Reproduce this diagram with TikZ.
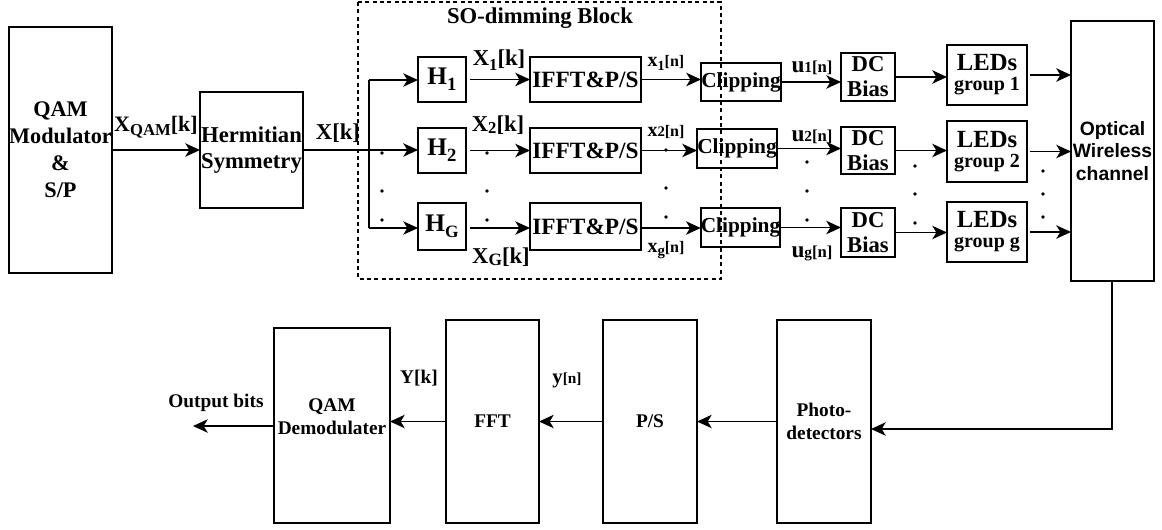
\documentclass[tikz,border=0pt]{standalone}
\usepackage{fontspec}
\setmainfont{Liberation Serif}
\newfontfamily\owfont{Liberation Sans}
\usetikzlibrary{arrows.meta}
\newcommand\fs[2]{\fontsize{#1pt}{#2pt}\selectfont}
\newcommand\lowr[3]{\raisebox{#1}{\fontsize{#2pt}{#2pt}\selectfont #3}}
\begin{document}
\begin{tikzpicture}[x=0.75pt,y=-0.75pt,
  box/.style={draw, line width=1.3pt, inner sep=0pt, outer sep=0pt, align=center},
  bx/.style n args={4}{at={({(#1+#3)/2},{(#2+#4)/2})}, minimum width={(#3-#1)*0.75pt}, minimum height={(#4-#2)*0.75pt}},
  arr/.style={line width=1.3pt, -{Stealth[length=11pt,width=10pt,inset=3pt]}},
  ln/.style={line width=1.3pt},
  lab/.style={inner sep=0pt}
]
\useasboundingbox (0,0) rectangle (1162,529);

% dashed SO-dimming block
\draw[line width=1.2pt, dash pattern=on 3pt off 2.5pt] (358,2) rectangle (721,279);
\node[lab, font=\bfseries\fs{17}{18}] (title) at (540,18) {SO-dimming Block};

% main boxes
\node[box, bx={9}{27}{112}{273}, font=\bfseries\fs{16.7}{20.2}] (mod) {QAM\\Modulator\\\&\\S/P};
\node[box, bx={200}{92}{303}{208}, font=\bfseries\fs{17}{19.5}] (herm) {Hermitian\\Symmetry};

\node[box, bx={418}{57}{466}{102}, font=\bfseries\fs{19}{20}] (H1) {H\lowr{-0.55ex}{14}{1}};
\node[box, bx={418}{128}{466}{173}, font=\bfseries\fs{19}{20}] (H2) {H\lowr{-0.55ex}{14}{2}};
\node[box, bx={418}{203}{466}{250}, font=\bfseries\fs{19}{20}] (HG) {H\lowr{-0.5ex}{13}{G}};

\node[box, bx={530}{57}{641}{102}, font=\bfseries\fs{17.5}{20}] (F1) {IFFT\&P/S};
\node[box, bx={530}{128}{641}{173}, font=\bfseries\fs{17.5}{20}] (F2) {IFFT\&P/S};
\node[box, bx={530}{203}{641}{250}, font=\bfseries\fs{17.5}{20}] (F3) {IFFT\&P/S};

\node[box, bx={701}{63}{781}{101}, font=\bfseries\fs{16}{18}] (C1) {Clipping};
\node[box, bx={697}{129}{777}{168}, font=\bfseries\fs{16}{18}] (C2) {Clipping};
\node[box, bx={701}{208}{780}{247}, font=\bfseries\fs{16}{18}] (C3) {Clipping};

\node[box, bx={841}{53}{895}{101}, font=\bfseries\fs{17}{18.7}] (D1) {DC\\Bias};
\node[box, bx={841}{127}{895}{174}, font=\bfseries\fs{17}{18.7}] (D2) {DC\\Bias};
\node[box, bx={841}{208}{895}{257}, font=\bfseries\fs{17}{18.7}] (D3) {DC\\Bias};

\node[box, bx={947}{45}{1027}{105}, font=\bfseries\fs{15}{16}] (L1) {{\fs{18.5}{16}LEDs}\\[-1pt]group 1};
\node[box, bx={947}{121}{1027}{182}, font=\bfseries\fs{15}{16}] (L2) {{\fs{18.5}{16}LEDs}\\[-1pt]group 2};
\node[box, bx={947}{202}{1027}{262}, font=\bfseries\fs{15}{16}] (L3) {{\fs{18.5}{16}LEDs}\\[-1pt]group g};

\node[box, bx={1071}{21}{1154}{281}, font=\owfont\bfseries\fs{14.5}{17}] (OW) {Optical\\Wireless\\channel};

\node[box, bx={274}{328}{390}{523}, font=\bfseries\fs{14.5}{17}] (QD) {QAM\\Demodulater\\[-3.5pt]\mbox{}};
\node[box, bx={446}{320}{539}{523}, font=\bfseries\fs{14.5}{17}] (FFT) {FFT};
\node[box, bx={603}{320}{697}{523}, font=\bfseries\fs{14.5}{17}] (PS) {P/S};
\node[box, bx={777}{320}{871}{523}, font=\bfseries\fs{14.5}{17}] (PD) {Photo-\\detectors};

% connectors top
\draw[arr] (mod.east) -- (herm.west);
\coordinate (sp) at (369,150);
\coordinate (sp1) at (369,80);
\coordinate (sp3) at (369,228);
\draw[ln] (herm.east) -- (sp);
\draw[ln] (sp1) -- (sp3);
\draw[arr] (sp1) -- (sp1 -| H1.west);
\draw[arr] (sp) -- (sp -| H2.west);
\draw[arr] (sp3) -- (sp3 -| HG.west);

\draw[arr, shorten <=3pt] (H1.east) -- (H1.east -| F1.west);
\draw[arr, shorten <=3pt] (H2.east) -- (H2.east -| F2.west);
\draw[arr, shorten <=3pt] (sp3 -| HG.east) -- (sp3 -| F3.west);

\draw[arr] (F1.east) -- (F1.east -| C1.west);
\draw[arr] (F2.east) -- (F2.east -| C2.west);
\draw[arr] (sp3 -| F3.east) -- (sp3 -| C3.west);

\draw[arr] (C1.east) -- (C1.east -| D1.west);
\draw[arr] (C2.east) -- (C2.east -| D2.west);
\draw[arr] (C3.east) -- (C3.east -| D3.west);

\draw[arr] (D1.east) -- (D1.east -| L1.west);
\draw[arr] (D2.east) -- (D2.east -| L2.west);
\draw[arr] (D3.east) -- (D3.east -| L3.west);

\draw[arr, shorten <=2pt] (L1.east) -- (L1.east -| OW.west);
\draw[arr, shorten <=2pt] (L2.east) -- (L2.east -| OW.west);
\draw[arr, shorten <=2pt] (L3.east) -- (L3.east -| OW.west);

% connectors bottom
\coordinate (bc) at (1112,429);
\draw[arr] (OW.south -| bc) -- (bc) -- (bc -| PD.east);
\draw[arr] (PD.west) -- (PD.west -| PS.east);
\draw[arr] (PS.west) -- (PS.west -| FFT.east);
\draw[arr] (FFT.west) -- (FFT.west -| QD.east);
\coordinate (out) at (193,426);
\draw[arr] (out -| QD.west) -- (out);

% labels
\node[lab, font=\bfseries\fs{16.5}{18}] (lqam) at (156,127) {X\lowr{-0.4ex}{12.5}{QAM}[k]};
\node[lab, font=\bfseries\fs{17}{18}] (lxk) at (338,133) {X[k]};
\node[lab, font=\bfseries\fs{17}{18}] (lx1) at (499,60) {X\lowr{-0.5ex}{12.5}{1}[k]};
\node[lab, font=\bfseries\fs{17}{18}] (lx2) at (498,125) {X\lowr{-0.2ex}{12.5}{2}[k]};
\node[lab, font=\bfseries\fs{17}{18}] (lxg) at (501,257) {X\lowr{-0.2ex}{13}{G}[k]};
\node[lab, font=\bfseries\fs{15}{16}] (ln1) at (666,63) {x\lowr{-0.4ex}{10.5}{1}{\fs{12}{12}[n]}};
\node[lab, font=\bfseries\fs{15}{16}] (ln2) at (666,132) {x{\fs{11}{12}2}{\fs{12}{12}[n]}};
\node[lab, font=\bfseries\fs{15}{16}] (lng) at (666,250) {x\lowr{-0.25ex}{11}{g}{\fs{12}{12}[n]}};
\node[lab, font=\bfseries\fs{17.5}{18}] (lu1) at (812,68) {u{\fs{11.5}{12}1}{\fs{12.5}{12}[n]}};
\node[lab, font=\bfseries\fs{17.5}{18}] (lu2) at (812,137) {u{\fs{11.5}{12}2}{\fs{12.5}{12}[n]}};
\node[lab, font=\bfseries\fs{17.5}{18}] (lug) at (812,253) {u{\fs{11.5}{12}g}{\fs{12.5}{12}[n]}};
\node[lab, font=\bfseries\fs{14.5}{16}] (lyk) at (419,378) {Y[k]};
\node[lab, font=\bfseries\fs{15.5}{16}] (lyn) at (567,380) {y{\fs{11.5}{12}[n]}};
\node[lab, font=\bfseries\fs{14.5}{16}] (lout) at (216,403) {Output bits};

% dots
\foreach \xx/\ya/\yb/\yc in {382/153/191/220, 487/153/191/220, 666/150/188/217, 807/162/191/220, 915/166/194/223, 1043/171/194/217}{
  \fill (\xx,\ya) circle (1.4pt);
  \fill (\xx,\yb) circle (1.4pt);
  \fill (\xx,\yc) circle (1.4pt);
}
\end{tikzpicture}
\end{document}
